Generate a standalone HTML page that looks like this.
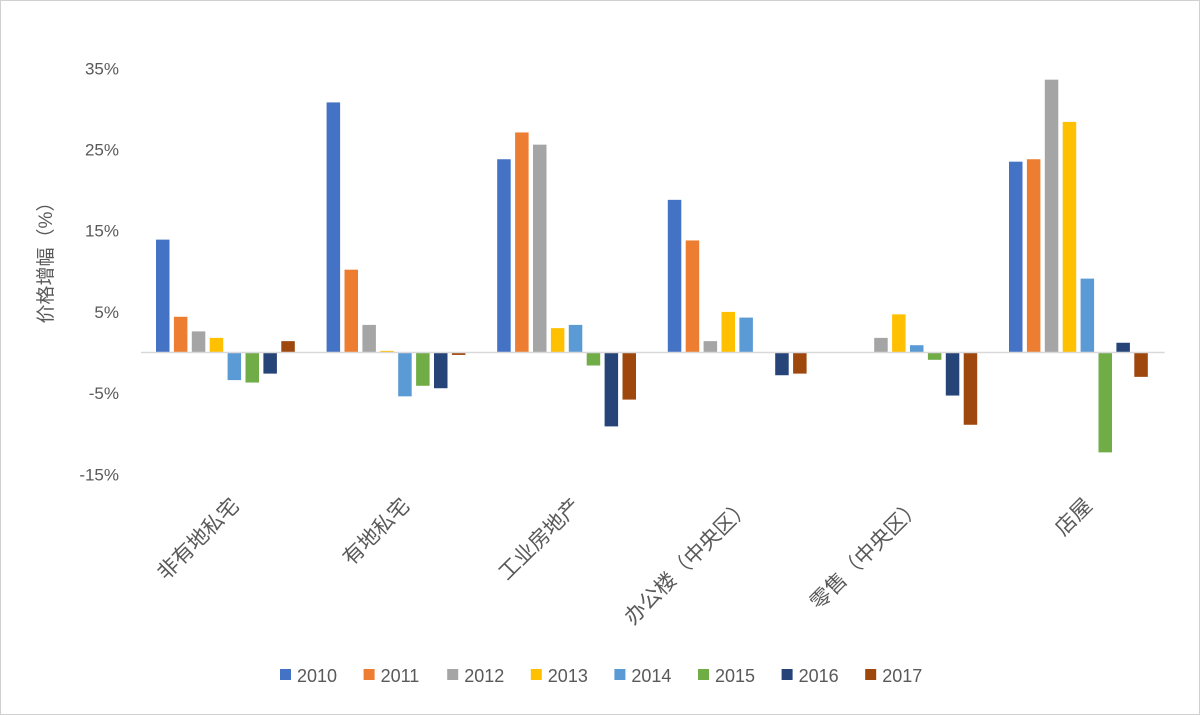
<!DOCTYPE html>
<html><head><meta charset="utf-8"><style>
body{margin:0;background:#fff;}
svg{display:block;font-family:"Liberation Sans","Noto Sans CJK SC",sans-serif;}
</style></head><body>
<svg id="chart" width="1200" height="715" viewBox="0 0 1200 715">
<rect x="0.5" y="0.5" width="1199" height="714" fill="#fff" stroke="#d0d0d0"/>
<text x="0" y="0" transform="translate(52,258) rotate(-90)" text-anchor="middle" font-size="19" fill="#595959">价格增幅（%）</text>
<g id="yticks"></g><g id="bars"></g><g id="xlabels"></g><g id="legend"></g>
</svg>
<script>
const categories=["非有地私宅","有地私宅","工业房地产","办公楼（中央区）","零售（中央区）","店屋"];
const years=["2010","2011","2012","2013","2014","2015","2016","2017"];
const colors=["#4472c4","#ed7d31","#a5a5a5","#ffc000","#5b9bd5","#70ad47","#264478","#9e480e"];
const s2010=[13.9,30.8,23.8,18.8,0,23.5];
const s2011=[4.4,10.2,27.1,13.8,0,23.8];
const s2012=[2.6,3.4,25.6,1.4,1.8,33.6];
const s2013=[1.8,0.2,3.0,5.0,4.7,28.4];
const s2014=[-3.4,-5.4,3.4,4.3,0.9,9.1];
const s2015=[-3.7,-4.1,-1.6,0,-0.9,-12.3];
const s2016=[-2.6,-4.4,-9.1,-2.8,-5.3,1.2];
const s2017=[1.4,-0.3,-5.8,-2.6,-8.9,-3.0];
const series=[s2010,s2011,s2012,s2013,s2014,s2015,s2016,s2017];
const tickVals=[35,25,15,5,-5,-15];
const tickLabels=["35%","25%","15%","5%","-5%","-15%"];
const NS="http://www.w3.org/2000/svg";
const y0=352.5, pxPer=8.12;
function y(v){return y0-v*pxPer;}
const left=141, groupW=170.6, step=17.9, bw=13.5;
function gx(i){return left+i*groupW;}
function mk(t,a,p){const e=document.createElementNS(NS,t);for(const k in a)e.setAttribute(k,a[k]);p.appendChild(e);return e;}
const yt=document.getElementById('yticks');
tickVals.forEach((v,i)=>{const t=mk('text',{x:119,y:y(v)+6,'text-anchor':'end','font-size':17,fill:'#595959'},yt);t.textContent=tickLabels[i];

});
const bars=document.getElementById('bars');
series.forEach((s,j)=>{s.forEach((v,i)=>{
const x=gx(i)+15+j*step;const top=Math.min(y(v),y(0));const h=Math.abs(y(v)-y(0));
const r=mk('rect',{x:x,y:top,width:bw,height:Math.max(h,0),fill:colors[j]},bars);

});});
const ax=mk('line',{x1:left,x2:left+6*groupW,y1:y(0),y2:y(0),stroke:'#d9d9d9','stroke-width':1.5},bars);


const xl=document.getElementById('xlabels');
categories.forEach((c,i)=>{const cx=gx(i)+groupW/2+14;
const t=mk('text',{x:0,y:0,transform:`translate(${cx},${507}) rotate(-45)`,'text-anchor':'end','font-size':21,fill:'#595959'},xl);t.textContent=c;

});
const lg=document.getElementById('legend');
years.forEach((yr,j)=>{const lx=280+j*83.6;
const g=mk('g',{},lg);


mk('rect',{x:lx,y:669,width:11,height:11,fill:colors[j]},g);
const t=mk('text',{x:lx+17,y:682,'font-size':18,fill:'#595959'},g);t.textContent=yr;});
</script>
</body></html>
